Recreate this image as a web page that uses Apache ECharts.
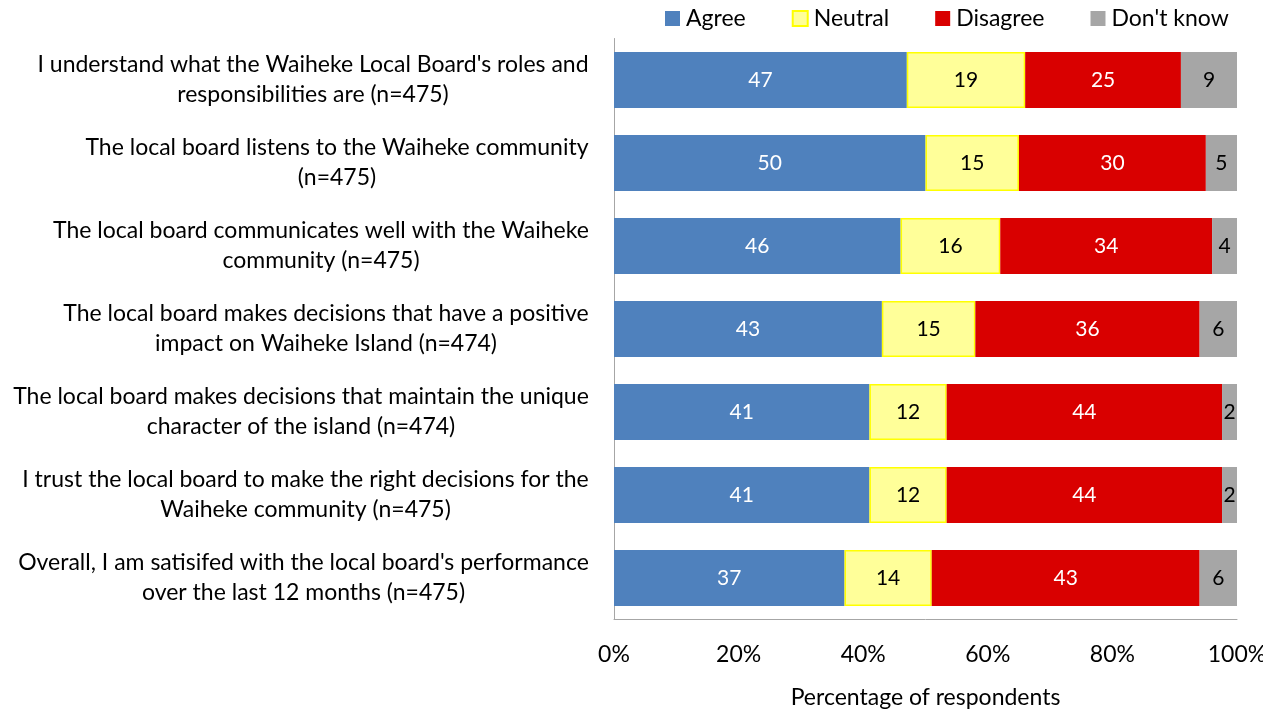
<!DOCTYPE html>
<html>
<head>
<meta charset="utf-8">
<script src="https://cdn.jsdelivr.net/npm/echarts@6/dist/echarts.min.js"></script>
<style>
  html, body { margin: 0; padding: 0; background: #fff; }
  #chart { width: 1263px; height: 711px; }
</style>
</head>
<body>
<div id="chart"></div>
<script>
// categories, top to bottom
var categories = [
  "I understand what the Waiheke Local Board's roles and\nresponsibilities are (n=475)",
  "The local board listens to the Waiheke community\n(n=475)",
  "The local board communicates well with the Waiheke\ncommunity (n=475)",
  "The local board makes decisions that have a positive\nimpact on Waiheke Island (n=474)",
  "The local board makes decisions that maintain the unique\ncharacter of the island (n=474)",
  "I trust the local board to make the right decisions for the\nWaiheke community (n=475)",
  "Overall, I am satisifed with the local board's performance\nover the last 12 months (n=475)"
];
var agree    = [47, 50, 46, 43, 41, 41, 37];
var neutral  = [19, 15, 16, 15, 12.4, 12.4, 14];
var disagree = [25, 30, 34, 36, 44.2, 44.2, 43];
var dontKnow = [9, 5, 4, 6, 2.4, 2.4, 6];
var xTicks = [0, 20, 40, 60, 80, 100];

var FONT = 'Lato';
var CAT_SIZE = 23;

// measure each label so the lines can be centred inside a right-aligned block
var ctx = document.createElement('canvas').getContext('2d');
ctx.font = CAT_SIZE + 'px ' + FONT;
var rich = {};
categories.forEach(function (c, i) {
  var w = 0;
  c.split('\n').forEach(function (line) {
    w = Math.max(w, ctx.measureText(line).width);
  });
  rich['c' + i] = {
    width: Math.ceil(w) + 2,
    align: 'center',
    fontSize: CAT_SIZE,
    lineHeight: 30,
    fontFamily: FONT,
    color: '#000'
  };
});

function label(color) {
  return {
    show: true,
    position: 'inside',
    fontSize: 21,
    fontFamily: FONT,
    color: color,
    formatter: function (p) { return Math.round(p.value); }
  };
}

var chart = echarts.init(document.getElementById('chart'));
chart.setOption({
  animation: false,
  textStyle: { fontFamily: FONT },
  legend: {
    left: 660,
    top: 2,
    itemWidth: 15,
    itemHeight: 15,
    itemGap: 46,
    icon: 'rect',
    textStyle: { fontSize: 23, color: '#000', fontFamily: FONT, padding: [0, 0, 0, 1] },
    data: ['Agree', 'Neutral', 'Disagree', "Don't know"]
  },
  grid: { left: 614, right: 26, top: 38.5, bottom: 91.5, outerBoundsMode: 'none', containLabel: false },
  xAxis: {
    type: 'value',
    min: xTicks[0],
    max: xTicks[xTicks.length - 1],
    interval: 20,
    name: 'Percentage of respondents',
    nameLocation: 'middle',
    nameGap: 67,
    nameTextStyle: { fontSize: 23, color: '#000', fontFamily: FONT },
    axisLine: { show: true, lineStyle: { color: '#a6a6a6', width: 1 } },
    axisTick: { show: false },
    splitLine: { show: false },
    axisLabel: { fontSize: 23, color: '#000', margin: 24, formatter: '{value}%', fontFamily: FONT },
    axisPointer: { show: false }
  },
  yAxis: {
    type: 'category',
    inverse: true,
    data: categories,
    axisLine: { show: true, lineStyle: { color: '#a6a6a6', width: 1 } },
    axisTick: { show: false },
    axisLabel: {
      margin: 24,
      align: 'right',
      formatter: function (v, i) { return '{c' + i + '|' + v + '}'; },
      rich: rich
    }
  },
  series: [
    { name: 'Agree', type: 'bar', stack: 'all', barWidth: 56, data: agree,
      itemStyle: { color: '#4f81bd' }, label: label('#fff') },
    { name: 'Neutral', type: 'bar', stack: 'all', data: neutral,
      itemStyle: { color: '#ffff99', borderColor: '#ffff00', borderWidth: 1.5 }, label: label('#000') },
    { name: 'Disagree', type: 'bar', stack: 'all', data: disagree,
      itemStyle: { color: '#d90000' }, label: label('#fff') },
    { name: "Don't know", type: 'bar', stack: 'all', data: dontKnow,
      itemStyle: { color: '#a6a6a6' }, label: label('#000') }
  ]
});
</script>
</body>
</html>
